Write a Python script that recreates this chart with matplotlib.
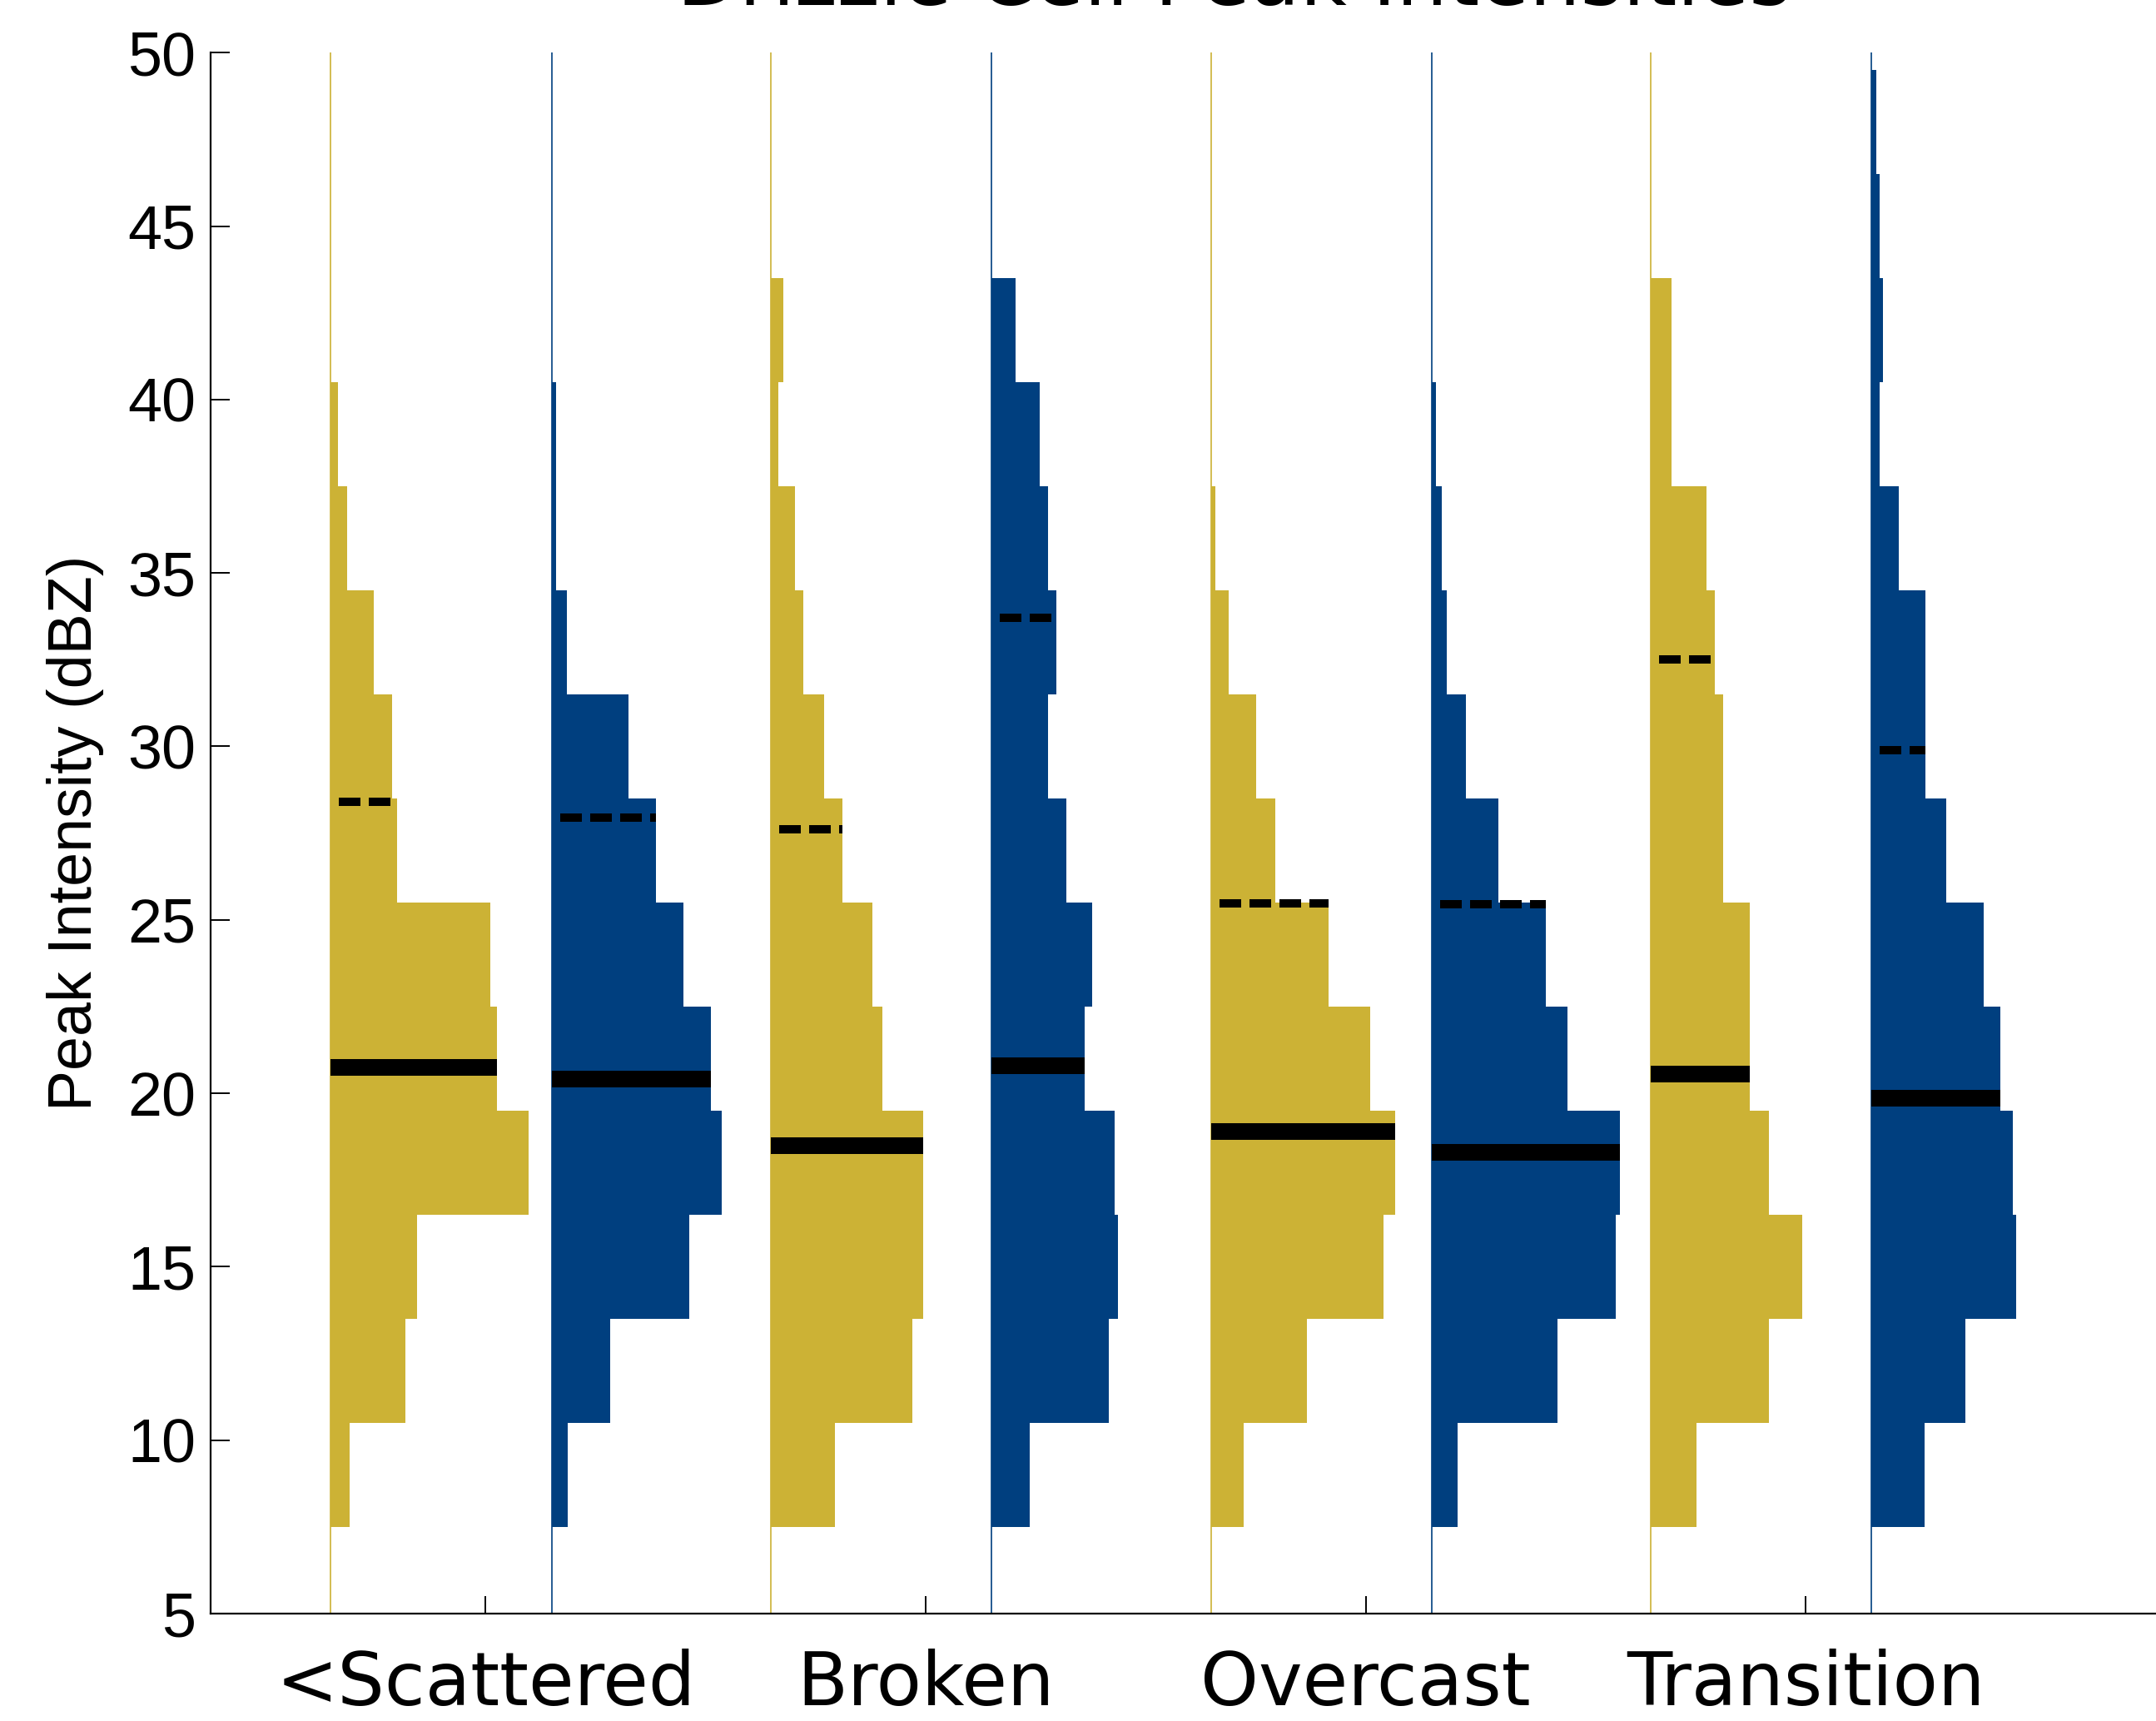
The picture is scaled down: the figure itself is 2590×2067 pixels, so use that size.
import numpy as np
import matplotlib
matplotlib.use('Agg')
import matplotlib.pyplot as plt

# reflectivity bins (dBZ), 3 dBZ wide starting at 7.5
bin_edges = np.arange(7.5, 50.0, 3.0)

categories = ['<Scattered', 'Broken', 'Overcast', 'Transition']

# relative frequency (%) per bin, lowest bin first
gold_freq = [
    [2.1, 8.2, 9.5, 21.8, 18.3, 17.6, 7.3, 6.8, 4.7, 1.8, 0.8],
    [7.1, 15.6, 16.8, 16.8, 12.3, 11.2, 7.9, 5.9, 3.6, 2.7, 0.8, 1.4],
    [3.6, 10.6, 19.1, 20.3, 17.6, 13.0, 7.1, 5.0, 2.0, 0.5],
    [5.0, 13.0, 16.7, 13.0, 10.9, 10.9, 8.0, 8.0, 7.1, 6.1, 2.3, 2.3],
]
blue_freq = [
    [1.8, 6.5, 15.2, 18.8, 17.6, 14.5, 11.5, 8.5, 1.7, 0.5, 0.5],
    [4.2, 12.9, 13.9, 13.6, 10.3, 11.1, 8.2, 6.2, 7.1, 6.2, 5.3, 2.6],
    [2.9, 13.9, 20.3, 20.8, 15.0, 12.6, 7.4, 3.8, 1.7, 1.1, 0.5],
    [5.8, 10.3, 15.9, 15.6, 14.2, 12.4, 8.2, 5.9, 5.9, 3.0, 0.9, 1.2, 0.9, 0.5],
]

# median (solid) and upper (dashed) peak intensity, dBZ
gold_median = [20.75, 18.5, 18.9, 20.55]
blue_median = [20.4, 20.8, 18.3, 19.85]
gold_upper = [28.4, 27.6, 25.48, 32.5]
blue_upper = [27.95, 33.7, 25.45, 29.9]

gold = '#CCB235'
blue = '#003F7F'
pct_scale = 0.0206     # x units per percent
offsets = (-0.352, 0.15)

plt.rcParams['font.family'] = ['Liberation Sans', 'DejaVu Sans']

fig = plt.figure(figsize=(25.9, 20.67), dpi=100)
ax = fig.add_axes([0.0977, 0.0624, 0.949, 0.907])


def width_at(freq, y):
    i = int(np.floor((y - bin_edges[0]) / 3.0))
    i = min(max(i, 0), len(freq) - 1)
    return freq[i] * pct_scale


def draw_hist(base, freq, med, upper, color):
    freq = np.asarray(freq)
    centers = bin_edges[:len(freq)] + 1.5
    ax.plot([base, base], [5, 50], color=color, lw=1.2, zorder=1)
    ax.barh(centers, freq * pct_scale, height=3.0, left=base, color=color,
            linewidth=0, zorder=2)
    ax.plot([base, base + width_at(freq, med)], [med, med], color='black',
            lw=14.4, solid_capstyle='butt', zorder=3)
    ax.plot([base, base + width_at(freq, upper)], [upper, upper], color='black',
            lw=7.2, linestyle=(2.6, (2.6, 1.0)), dash_capstyle='butt', zorder=3)


for k in range(len(categories)):
    x0 = k + 1
    draw_hist(x0 + offsets[0], gold_freq[k], gold_median[k], gold_upper[k], gold)
    draw_hist(x0 + offsets[1], blue_freq[k], blue_median[k], blue_upper[k], blue)

ax.set_xlim(0.375, 5.025)
ax.set_ylim(5, 50)
ax.set_yticks(np.arange(5, 51, 5))
ax.set_xticks(np.arange(1, len(categories) + 1))
ax.set_xticklabels(categories, fontsize=64, family=['DejaVu Sans'])
ax.tick_params(axis='y', direction='in', length=16.5, width=1.4, labelsize=53, pad=13)
ax.tick_params(axis='x', direction='in', length=15, width=1.4, pad=30)
for s in ('top', 'right'):
    ax.spines[s].set_visible(False)
for s in ('left', 'bottom'):
    ax.spines[s].set_linewidth(1.6)

ax.set_ylabel('Peak Intensity (dBZ)', fontsize=53, labelpad=20)
ax.set_title('Drizzle Cell Peak Intensities', fontsize=70, family=['DejaVu Sans'], pad=41)

fig.savefig('out.png', dpi=100)
